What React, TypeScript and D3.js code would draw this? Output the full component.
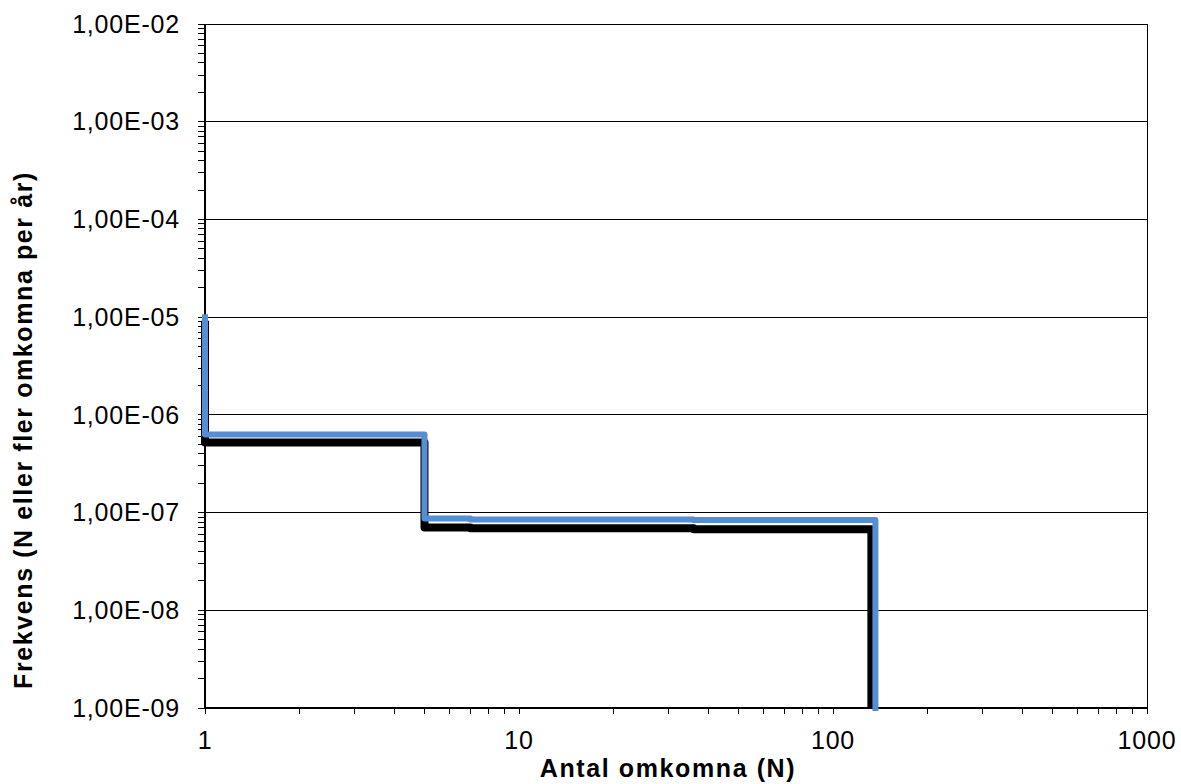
import React from "react";
import * as d3 from "d3";

const W = 1181;
const H = 784;

// Tick values
const xTickValues = [1, 10, 100, 1000];
const xTickLabels = ["1", "10", "100", "1000"];
const yTickValues = [1e-9, 1e-8, 1e-7, 1e-6, 1e-5, 1e-4, 1e-3, 1e-2];
const yTickLabels = ["1,00E-09", "1,00E-08", "1,00E-07", "1,00E-06", "1,00E-05", "1,00E-04", "1,00E-03", "1,00E-02"];

// Series (step curves: N, frequency)
const blackN = [1, 5, 7, 36, 132.5, 132.5];
const blackF = [9.2e-6, 5.2e-7, 7.05e-8, 6.9e-8, 6.75e-8, 1e-9];
const blueN = [1, 5, 7, 36, 136.5, 136.5];
const blueF = [1e-5, 6.3e-7, 8.7e-8, 8.5e-8, 8.4e-8, 1e-9];

const xTitle = "Antal omkomna (N)";
const yTitle = "Frekvens (N eller fler omkomna per år)";

const m = { left: 205, right: 1147, top: 24, bottom: 708 };

export default function App() {
  const x = d3.scaleLog().domain([1, 1000]).range([m.left, m.right]);
  const y = d3.scaleLog().domain([1e-9, 1e-2]).range([m.bottom, m.top]);

  const line = d3
    .line<[number, number]>()
    .x((d) => x(d[0]))
    .y((d) => y(d[1]))
    .curve(d3.curveStepBefore);

  const blackPts = blackN.map((n, i) => [n, blackF[i]] as [number, number]);
  const bluePts = blueN.map((n, i) => [n, blueF[i]] as [number, number]);

  const minorX: number[] = [];
  for (let e = 0; e < 3; e++) for (let k = 2; k <= 9; k++) minorX.push(k * Math.pow(10, e));
  const minorY: number[] = [];
  for (let e = -9; e < -2; e++) for (let k = 2; k <= 9; k++) minorY.push(k * Math.pow(10, e));

  const font = "'Liberation Sans', Arial, sans-serif";

  return (
    <div style={{ position: "absolute", left: 0, top: 0 }}>
      <svg width={W} height={H} style={{ display: "block", background: "#fff" }}>
        {/* gridlines */}
        {yTickValues.map((v) => (
          <line key={"g" + v} x1={m.left} x2={m.right} y1={y(v)} y2={y(v)} stroke="#000" strokeWidth={1} shapeRendering="crispEdges" />
        ))}
        {/* right border */}
        <line x1={m.right} x2={m.right} y1={m.top} y2={m.bottom} stroke="#000" strokeWidth={1} shapeRendering="crispEdges" />
        {/* y axis */}
        <line x1={m.left} x2={m.left} y1={m.top} y2={m.bottom} stroke="#000" strokeWidth={1.5} shapeRendering="crispEdges" />
        {yTickValues.concat(minorY).map((v) => (
          <line key={"yt" + v} x1={m.left - 7} x2={m.left} y1={y(v)} y2={y(v)} stroke="#000" strokeWidth={1} shapeRendering="crispEdges" />
        ))}
        {/* x axis */}
        <line x1={m.left} x2={m.right} y1={m.bottom} y2={m.bottom} stroke="#000" strokeWidth={1.5} shapeRendering="crispEdges" />
        {xTickValues.concat(minorX).map((v) => (
          <line key={"xt" + v} x1={x(v)} x2={x(v)} y1={m.bottom} y2={m.bottom + 6} stroke="#000" strokeWidth={1} shapeRendering="crispEdges" />
        ))}
        {/* series */}
        <path d={line(blackPts) || ""} fill="none" stroke="#000" strokeWidth={8} strokeLinejoin="round" />
        <path d={line(bluePts) || ""} fill="none" stroke="#558ed5" strokeWidth={6} strokeLinejoin="round" strokeLinecap="square" />
        {/* y labels */}
        {yTickValues.map((v, i) => (
          <text key={"yl" + v} x={180} y={y(v)} dy="0.35em" textAnchor="end" fontFamily={font} fontSize={25} letterSpacing={0.8} fill="#000">
            {yTickLabels[i]}
          </text>
        ))}
        {/* x labels */}
        {xTickValues.map((v, i) => (
          <text key={"xl" + v} x={x(v)} y={749} textAnchor="middle" fontFamily={font} fontSize={25} letterSpacing={0.8} fill="#000">
            {xTickLabels[i]}
          </text>
        ))}
        {/* titles */}
        <text x={668} y={777} textAnchor="middle" fontFamily={font} fontSize={25} fontWeight="bold" letterSpacing={1.6} fill="#000">
          {xTitle}
        </text>
        <text transform={`translate(32, 430) rotate(-90)`} textAnchor="middle" fontFamily={font} fontSize={25} fontWeight="bold" letterSpacing={1.6} fill="#000">
          {yTitle}
        </text>
      </svg>
    </div>
  );
}
